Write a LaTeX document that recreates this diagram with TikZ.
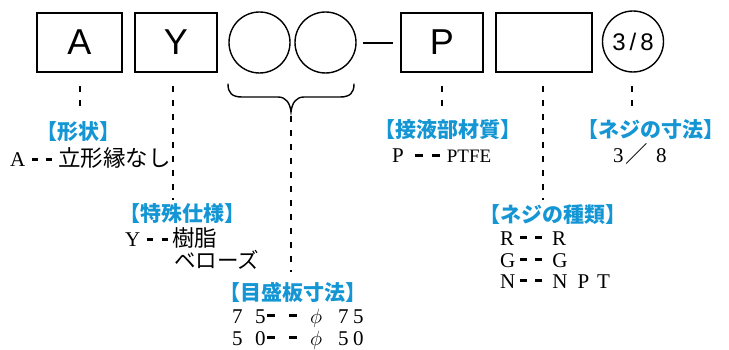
\documentclass[tikz,border=0pt]{standalone}
\usepackage{fontspec}
\setmainfont{Liberation Serif}
\newfontfamily\jp{Noto Sans CJK JP}
\newfontfamily\sansf{Liberation Sans}
\definecolor{lblue}{HTML}{1496D4}
\newcommand{\dd}[2]{\rule[6.2pt]{#1}{3pt}\hspace{#2}\rule[6.2pt]{#1}{3pt}}
\newcommand{\jb}[1]{{\jp\fontsize{22.5}{24}\selectfont #1}}
\begin{document}
\begin{tikzpicture}[x=1pt,y=-1pt,
  codebox/.style={draw, line width=1.6pt, minimum height=59pt, inner sep=0pt, font=\sansf\fontsize{36}{36}\selectfont},
  codecirc/.style={draw, circle, line width=1.4pt, minimum size=61pt, inner sep=0pt, font=\sansf\fontsize{24}{24}\selectfont},
  leader/.style={line width=2pt, dash pattern=on 6pt off 8pt},
  head/.style={text=lblue, font=\jp\bfseries\fontsize{21}{21}\selectfont, inner sep=0pt, anchor=west},
  body/.style={font=\fontsize{21}{23}\selectfont, inner sep=0pt, anchor=base west, text height=15pt, text depth=2pt},
]
\useasboundingbox (0,0) rectangle (729,350);
% code boxes
\node[codebox, minimum width=85pt] (bA) at (79.5,42.5) {A};
\node[codebox, minimum width=82pt] (bY) at (176,42.5) {Y};
\node[codecirc] (c1) at (259.5,42.5) {};
\node[codecirc] (c2) at (325.5,42.5) {};
\node[codebox, minimum width=82pt] (bP) at (442,42.5) {P};
\node[codebox, minimum width=96pt] (bE) at (544,42.5) {};
\node[codecirc] (c3) at (633,41.5) {3\,/\,8};
\coordinate (d1) at (363,43);
\coordinate (d2) at (393,43);
\draw[line width=1.5pt] (d1) -- (d2);
% brace
\coordinate (br1) at (228,84);
\coordinate (br2) at (354,84);
\coordinate (brt) at (291,112);
\draw[line width=1.4pt, line cap=round] (br1) .. controls (228,93) and (232,97) .. (242,97) -- (278,97) .. controls (286,97) and (290,103) .. (brt) .. controls (292,103) and (296,97) .. (304,97) -- (340,97) .. controls (350,97) and (354,93) .. (br2);
% headings
\node[head] (h1) at (36,132) {【形状】};
\node[head] (h2) at (119,214) {【特殊仕様】};
\node[head] (h3) at (219,292) {【目盛板寸法】};
\node[head] (h4) at (374,130) {【接液部材質】};
\node[head] (h5) at (577,130) {【ネジの寸法】};
\node[head] (h6) at (479,215) {【ネジの種類】};
% bodies
\node[body] (t1) at (10,167) {A\hspace{7pt}\dd{6pt}{8pt}\hspace{6pt}\jb{立形縁なし}};
\node[body] (t2) at (125,247) {Y\hspace{7pt}\dd{6pt}{9pt}\hspace{4pt}\jb{樹脂}};
\node[body] (t2b) at (174,269) {\jp\fontsize{21.5}{23}\selectfont ベローズ};
\node[body] (t3) at (232,323) {7\hspace{12.5pt}5\hspace{1.5pt}\dd{8pt}{14pt}\hspace{13pt}$\phi$\hspace{16pt}7\hspace{4.5pt}5};
\node[body] (t3b) at (232,345) {5\hspace{12.5pt}0\hspace{1.5pt}\dd{8pt}{14pt}\hspace{13pt}$\phi$\hspace{16pt}5\hspace{4.5pt}0};
\node[body] (t4) at (392,163) {P\hspace{11pt}\dd{8pt}{9pt}\hspace{7pt}{\fontsize{19}{21}\selectfont PTFE}};
\node[body] (t5) at (613,163) {3\hspace{2pt}\jb{／}\hspace{8pt}8};
\node[body] (t6) at (500,245) {R\hspace{6pt}\dd{7pt}{8pt}\hspace{10pt}R};
\node[body] (t6b) at (500,267) {G\hspace{5pt}\dd{7pt}{8pt}\hspace{10pt}G};
\node[body] (t6c) at (500,288) {N\hspace{5pt}\dd{7pt}{8pt}\hspace{10pt}N\hspace{10pt}P\hspace{8pt}T};
% leaders
\coordinate (e1) at (80,110);
\coordinate (e2) at (173,200);
\coordinate (e3) at (291,272);
\coordinate (e4) at (442,110);
\coordinate (e5) at (543,200);
\coordinate (e6) at (632,110);
\draw[leader] (80,86) -- (e1);
\draw[leader] (173,86) -- (e2);
\draw[leader] (brt) ++(0,4) -- (e3);
\draw[leader] (442,86) -- (e4);
\draw[leader] (543,86) -- (e5);
\draw[leader] (632,86) -- (e6);
\end{tikzpicture}
\end{document}
